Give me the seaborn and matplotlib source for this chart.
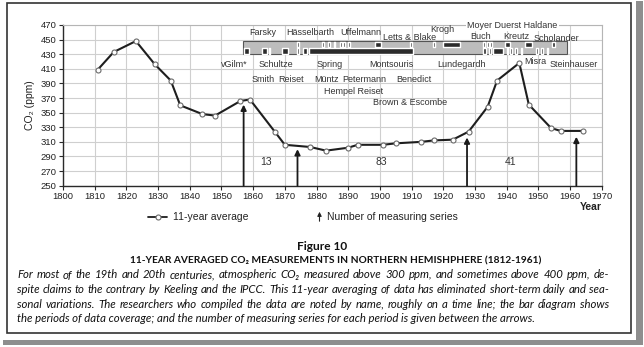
import matplotlib
matplotlib.use("Agg")
import matplotlib.pyplot as plt
from matplotlib.patches import Rectangle, FancyArrowPatch
from matplotlib.lines import Line2D
import seaborn as sns

# 11-year averaged CO2 series
years = [1811, 1816, 1823, 1829, 1834, 1837, 1844, 1848, 1856, 1859, 1867, 1870,
         1878, 1883, 1890, 1893, 1901, 1905, 1913, 1917, 1923, 1928, 1934, 1937,
         1944, 1947, 1954, 1957, 1964]
co2_ppm = [409, 433, 448, 416, 394, 360, 348, 346, 366, 368, 323, 306,
           303, 298, 302, 306, 306, 308, 310, 312, 313, 324, 358, 394,
           418, 361, 329, 325, 325]

decade_ticks = list(range(1800, 1971, 10))
ppm_ticks = list(range(250, 471, 20))

# arrows that bound the periods of measuring series
arrow_years = [1857, 1874, 1927.5, 1962]
arrow_tips = [361, 300, 316, 317]
series_counts = ["13", "83", "41"]
count_years = [1864, 1900.4, 1941.2]

# periods of data coverage (start year, duration) for the two bar rows
coverage_start, coverage_end = 1856.7, 1958.9
coverage_upper = [(1874.0, 0.5), (1881.8, 0.6), (1883.7, 0.5), (1885.4, 0.4),
                  (1887.4, 0.5), (1888.4, 0.6), (1889.8, 0.7), (1898.4, 2.1),
                  (1909.5, 0.6), (1916.8, 0.6), (1920.0, 5.2), (1932.6, 0.6),
                  (1933.8, 0.5), (1934.9, 0.4), (1939.4, 1.6), (1945.7, 2.2),
                  (1954.2, 1.0)]
coverage_lower = [(1857.2, 1.5), (1862.7, 1.6), (1865.0, 0.4), (1869.0, 2.1),
                  (1874.0, 0.5), (1875.6, 1.3), (1877.6, 32.9), (1932.6, 0.8),
                  (1934.4, 0.8), (1935.7, 3.2), (1940.0, 0.3), (1941.2, 0.6),
                  (1942.6, 0.6), (1944.4, 0.6), (1949.4, 0.6), (1951.0, 0.5),
                  (1952.6, 0.5)]

# researchers, placed roughly on the time line
researchers = ["Farsky", "Hässelbarth", "Uffelmann", "Letts & Blake", "Krogh",
               "Buch", "Kreutz", "Scholander", "vGilm*", "Schultze", "Spring",
               "Montsouris", "Lundegardh", "Misra", "Steinhauser", "Smith",
               "Reiset", "Müntz", "Petermann", "Benedict", "Hempel Reiset",
               "Brown & Escombe"]
researcher_years = [1863.1, 1878, 1894, 1909.5, 1919.7, 1931.9, 1943.1, 1955.7,
                    1853.9, 1867.2, 1884.2, 1903.7, 1925.8, 1948.9, 1961.3,
                    1863.3, 1872, 1883.2, 1895, 1910.7, 1891.8, 1909.4]
researcher_ppm = [460, 460, 460, 452.6, 464, 454, 454, 451.8,
                  416, 416, 416, 416, 416, 420.7, 416,
                  395, 395, 395, 395, 395, 379.6, 364]
top_group = "Moyer Duerst Haldane"
top_group_year = 1941.7

caption_lines = [
    "For most of the 19th and 20th centuries, atmospheric CO\u2082 measured above 300 ppm, and sometimes above 400 ppm, de-",
    "spite claims to the contrary by Keeling and the IPCC. This 11-year averaging of data has eliminated short-term daily and sea-",
    "sonal variations. The researchers who compiled the data are noted by name, roughly on a time line; the bar diagram shows",
    "the periods of data coverage; and the number of measuring series for each period is given between the arrows.",
]

W, H = 644, 347
sns.set_theme(style="whitegrid")
plt.rcParams["font.family"] = ["Liberation Sans", "DejaVu Sans"]
CAPTION_FONT = ["Lato", "DejaVu Sans"]

fig = plt.figure(figsize=(W / 100, H / 100), dpi=100)
fig.patch.set_facecolor("white")
renderer = fig.canvas.get_renderer()


def fx(px):
    return px / W


def fy(py):
    return 1 - py / H


def fit_width(text_obj, target_px):
    """Rescale a text's font size so that it spans target_px pixels."""
    w = text_obj.get_window_extent(renderer).width
    text_obj.set_fontsize(text_obj.get_fontsize() * target_px / w)
    return text_obj


# page frame with drop shadow
fig.add_artist(Rectangle((fx(636), fy(345)), 7 / W, 344 / H, transform=fig.transFigure,
                         facecolor="#8e8e8e", edgecolor="none", zorder=-3))
fig.add_artist(Rectangle((fx(3), fy(345)), 640 / W, 5 / H, transform=fig.transFigure,
                         facecolor="#8e8e8e", edgecolor="none", zorder=-3))
fig.add_artist(Rectangle((fx(7), fy(333)), 624 / W, 330 / H, transform=fig.transFigure,
                         facecolor="white", edgecolor="#333333", lw=1.2, zorder=-2))

ax = fig.add_axes([fx(63), fy(185.7), 538.7 / W, 160.7 / H])
ax.set_facecolor("none")

sns.lineplot(x=years, y=co2_ppm, ax=ax, color="#1e1e1e", lw=1.5, marker="o",
             markersize=3.6, markerfacecolor="white", markeredgecolor="#6a6a6a",
             markeredgewidth=0.8, legend=False, zorder=4)

ax.set_xlim(1800, 1970)
ax.set_ylim(250, 470)
ax.set_xticks(decade_ticks)
ax.set_yticks(ppm_ticks)
ax.grid(True, color="#cfcfcf", lw=0.8)
ax.set_axisbelow(True)
for side in ("top", "right"):
    ax.spines[side].set_color("#b5b5b5")
    ax.spines[side].set_linewidth(0.8)
for side in ("left", "bottom"):
    ax.spines[side].set_color("#2a2a2a")
    ax.spines[side].set_linewidth(1.0)
ax.tick_params(axis="both", length=3, width=0.8, color="#2a2a2a", labelsize=6.8,
               labelcolor="#222222", pad=1.5, direction="out", left=True, bottom=True)
ax.set_xlabel("")
ax.set_ylabel("CO\u2082 (ppm)", fontsize=7.5, color="#222222")
ax.yaxis.set_label_coords(-0.052, 0.5)

# coverage bar diagram
ax.add_patch(Rectangle((coverage_start, 430), coverage_end - coverage_start, 18,
                       facecolor="#bdbdbd", edgecolor="#555555", lw=0.8, zorder=3))
ax.broken_barh(coverage_upper, (439.6, 7.6), facecolors="#2b2b2b", zorder=4)
ax.broken_barh(coverage_lower, (430.8, 7.6), facecolors="#2b2b2b", zorder=4)

for name, yr, pp in zip(researchers, researcher_years, researcher_ppm):
    ax.text(yr, pp, name, ha="center", va="center", fontsize=6.5, color="#333333", zorder=6)
ax.text(top_group_year, 470, top_group, ha="center", va="center", fontsize=6.5,
        color="#333333", zorder=6, clip_on=False,
        bbox=dict(facecolor="white", edgecolor="none", pad=1.0))

for yr, tip in zip(arrow_years, arrow_tips):
    ax.annotate("", xy=(yr, tip), xytext=(yr, 250),
                arrowprops=dict(arrowstyle="-|>", color="#1a1a1a", lw=1.3,
                                mutation_scale=8, shrinkA=0, shrinkB=0), zorder=5)
for yr, label in zip(count_years, series_counts):
    ax.text(yr, 282, label, ha="center", va="center", fontsize=7.5, color="#333333")

fig.text(fx(601.7), fy(206.7), "Year", ha="right", va="center", fontsize=7.5,
         weight="bold", color="#222222")

# legend row
fig.add_artist(Line2D([fx(148), fx(167)], [fy(217)] * 2, transform=fig.transFigure,
                      color="#1e1e1e", lw=1.3))
fig.add_artist(Line2D([fx(157.5)], [fy(217)], transform=fig.transFigure, marker="o",
                      markersize=3.6, markerfacecolor="white", markeredgecolor="#6a6a6a",
                      markeredgewidth=0.8, linestyle="none"))
fig.text(fx(173), fy(217), "11-year average", ha="left", va="center", fontsize=7.5,
         color="#222222")
fig.add_artist(FancyArrowPatch((fx(319.5), fy(224)), (fx(319.5), fy(209)),
                               transform=fig.transFigure, arrowstyle="-|>",
                               mutation_scale=6, lw=0.8, color="#222222"))
fig.text(fx(327), fy(217), "Number of measuring series", ha="left", va="center",
         fontsize=7.5, color="#222222")

# caption block
fit_width(fig.text(fx(322), fy(247), "Figure 10", ha="center", va="center",
                   fontsize=9, weight="bold", family=CAPTION_FONT, color="#111111"), 50)
fit_width(fig.text(fx(335.5), fy(261),
                   "11-YEAR AVERAGED CO\u2082 MEASUREMENTS IN NORTHERN HEMISHPHERE (1812-1961)",
                   ha="center", va="center", fontsize=9, weight="bold",
                   family=CAPTION_FONT, color="#111111"), 409)

cap_left, cap_right, last_right = 17, 609, 538
cap_y = [275, 289.5, 304, 318]
cap_style = dict(va="center", style="italic", family=CAPTION_FONT, color="#111111")
last = fig.text(fx(cap_left), fy(cap_y[-1]), caption_lines[-1], ha="left",
                fontsize=8, **cap_style)
fit_width(last, last_right - cap_left)
cap_size = last.get_fontsize()
for line, ypx in zip(caption_lines[:-1], cap_y[:-1]):
    # justified lines: words spread evenly between the margins
    words = line.split(" ")
    texts = [fig.text(0, fy(ypx), w, ha="left", fontsize=cap_size, **cap_style)
             for w in words]
    widths = [t.get_window_extent(renderer).width for t in texts]
    gap = (cap_right - cap_left - sum(widths)) / (len(words) - 1)
    x = cap_left
    for t, w in zip(texts, widths):
        t.set_x(fx(x))
        x += w + gap

fig.savefig("out.png", dpi=100, facecolor="white")
